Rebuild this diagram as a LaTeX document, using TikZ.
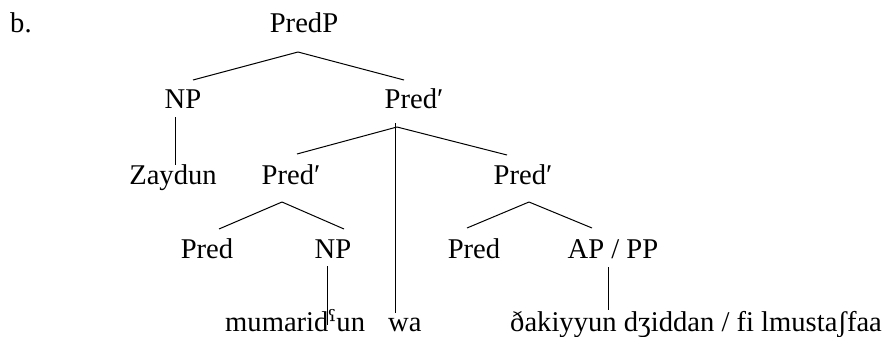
\documentclass[tikz,border=0pt]{standalone}
\usepackage{fontspec}
\setmainfont{Liberation Serif}
\newfontfamily\ipafb{DejaVu Serif}
\usetikzlibrary{calc}
\begin{document}
\begin{tikzpicture}[x=1pt,y=-1pt,
  lab/.style={inner sep=0pt,anchor=base,font=\fontsize{28.6}{34}\selectfont},
  leaf/.style={lab,anchor=base west},
  br/.style={line width=1pt,line cap=butt}]
\useasboundingbox (0,0) rectangle (892,337);
% labels
\node[leaf] (b) at (10,33) {b.};
\node[lab] (predp) at (304,33) {PredP};
\node[lab] (np1) at (183,108) {NP};
\node[lab] (pb1) at (414,108) {Pred′};
\node[lab] (zaydun) at (173,184) {Zaydun};
\node[lab] (pb2) at (291,184) {Pred′};
\node[lab] (pb3) at (523,184) {Pred′};
\node[lab] (pred1) at (207,258) {Pred};
\node[lab] (np2) at (333,258) {NP};
\node[lab] (pred2) at (474,258) {Pred};
\node[lab] (appp) at (613,258) {AP / PP};
\node[leaf] (mum) at (225,331) {mumarid{\ipafb ˤ}un};
\node[leaf] (wa) at (388,331) {wa};
\node[leaf] (dak) at (510,331) {ðakiyyun dʒiddan / fi lmustaʃfaa};
% branches
\draw[br] ($(predp.base)+(-6,19)$) -- ($(np1.base)+(10,-28)$);
\draw[br] ($(predp.base)+(-6,19)$) -- ($(pb1.base)+(-10,-28)$);
\draw[br] ($(np1.base)+(-8,9)$) -- ($(zaydun.base)+(2,-19)$);
\draw[br] ($(pb1.base)+(-17,19)$) -- ($(pb2.base)+(6,-30)$);
\draw[br] ($(pb1.base)+(-17,19)$) -- ($(pb3.base)+(-16,-29)$);
\draw[br] ($(pb1.base)+(-19,15)$) -- ($(wa.base west)+(7,-18)$);
\draw[br] ($(pb2.base)+(-9,18)$) -- ($(pred1.base)+(12,-29)$);
\draw[br] ($(pb2.base)+(-9,18)$) -- ($(np2.base)+(11,-29)$);
\draw[br] ($(pb3.base)+(6,18)$) -- ($(pred2.base)+(-7,-30)$);
\draw[br] ($(pb3.base)+(6,18)$) -- ($(appp.base)+(-21,-30)$);
\draw[br] ($(np2.base)+(-6,8)$) -- ($(mum.base west)+(102,-6)$);
\draw[br] ($(appp.base)+(-5,9)$) -- ($(dak.base west)+(98,-21)$);
\end{tikzpicture}
\end{document}
